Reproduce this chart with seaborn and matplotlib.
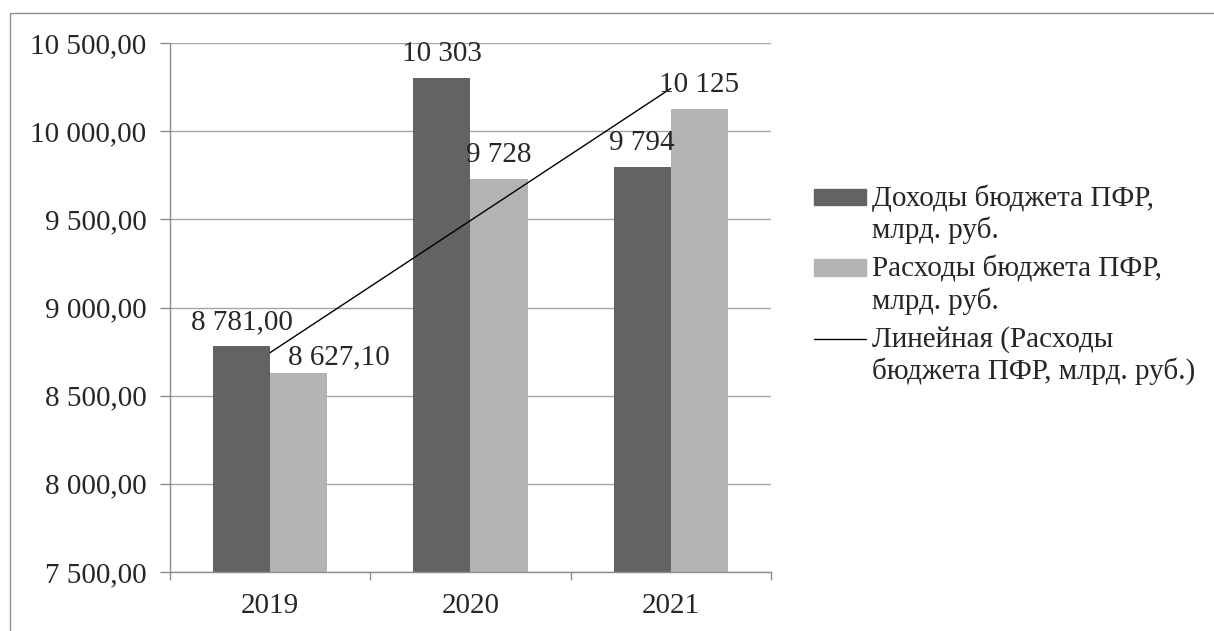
import numpy as np
import pandas as pd
import matplotlib
matplotlib.use("Agg")
import matplotlib.pyplot as plt
import matplotlib.patches as mpatches
from matplotlib.lines import Line2D
from matplotlib.legend_handler import HandlerPatch, HandlerLine2D
from matplotlib.ticker import FuncFormatter
import seaborn as sns

# Data
years = ["2019", "2020", "2021"]
income = [8781.00, 10303, 9794]
expenses = [8627.10, 9728, 10125]
income_labels = ["8 781,00", "10 303", "9 794"]
expenses_labels = ["8 627,10", "9 728", "10 125"]
series_names = ["Доходы бюджета ПФР,\nмлрд. руб.", "Расходы бюджета ПФР,\nмлрд. руб."]
trend_name = "Линейная (Расходы\nбюджета ПФР, млрд. руб.)"
y_ticks = [7500, 8000, 8500, 9000, 9500, 10000, 10500]

dark = "#636363"
light = "#b3b3b3"
grid_col = "#a6a6a6"
FS = 21

sns.set_style("white")
plt.rcParams["font.family"] = ["Liberation Serif"]

df = pd.DataFrame({
    "year": years * 2,
    "value": income + expenses,
    "series": [series_names[0]] * 3 + [series_names[1]] * 3,
})

fig = plt.figure(figsize=(12.14, 6.31), dpi=100)
ax = fig.add_axes([170 / 1214, 1 - 572 / 631, 601 / 1214, 529 / 631])

sns.barplot(data=df, x="year", y="value", hue="series", order=years,
            hue_order=series_names, palette=[dark, light], width=0.57,
            saturation=1, errorbar=None, linewidth=0, legend=False, ax=ax)

# linear trend of expenses
sns.regplot(x=np.arange(len(years)), y=np.array(expenses), scatter=False,
            ci=None, truncate=True, color="black",
            line_kws={"linewidth": 1}, ax=ax)

ax.set_xlim(-0.5, len(years) - 0.5)
ax.set_ylim(y_ticks[0], y_ticks[-1])
ax.set_yticks(y_ticks)
ax.yaxis.set_major_formatter(FuncFormatter(
    lambda v, p: f"{v:,.2f}".replace(",", " ").replace(".", ",")))
ax.set_xlabel("")
ax.set_ylabel("")

ax.set_axisbelow(True)
ax.grid(axis="y", color=grid_col, linewidth=1)
ax.grid(axis="x", visible=False)
for s in ["top", "right"]:
    ax.spines[s].set_visible(False)
for s in ["left", "bottom"]:
    ax.spines[s].set_color("#8c8c8c")
    ax.spines[s].set_linewidth(1)

ax.tick_params(axis="y", which="major", direction="out", length=7, width=1,
               color="#8c8c8c", labelsize=FS, pad=10, left=True)
ax.tick_params(axis="x", which="major", length=0, labelsize=FS, pad=15)
ax.set_xticks(np.arange(len(years) + 1) - 0.5, minor=True)
ax.tick_params(axis="x", which="minor", direction="out", length=6, width=1,
               color="#8c8c8c", bottom=True)
for t in ax.get_xticklabels() + ax.get_yticklabels():
    t.set_fontfamily("Liberation Serif")

# data labels
inc_ann = ax.bar_label(ax.containers[0], labels=income_labels, padding=8,
                       fontsize=FS, family="Liberation Serif")
exp_ann = ax.bar_label(ax.containers[1], labels=expenses_labels, padding=8,
                       fontsize=FS, family="Liberation Serif")
exp_ann[0].xyann = (29, 2)


class TopPatch(HandlerPatch):
    def create_artists(self, legend, orig_handle, xdescent, ydescent,
                       width, height, fontsize, trans):
        arts = super().create_artists(legend, orig_handle, xdescent, ydescent,
                                      width, height, fontsize, trans)
        for a in arts:
            a.set_y(a.get_y() + 0.6 * fontsize)
        return arts


class TopLine(HandlerLine2D):
    def create_artists(self, legend, orig_handle, xdescent, ydescent,
                       width, height, fontsize, trans):
        arts = super().create_artists(legend, orig_handle, xdescent, ydescent,
                                      width, height, fontsize, trans)
        for a in arts:
            a.set_ydata(np.asarray(a.get_ydata()) + 0.6 * fontsize)
        return arts


handles = [mpatches.Patch(color=dark), mpatches.Patch(color=light),
           Line2D([], [], color="black", linewidth=1)]
fig.legend(handles, series_names + [trend_name], loc="upper left",
           bbox_to_anchor=(814 / 1214, 1 - 185 / 631), frameon=False,
           prop={"family": "Liberation Serif", "size": FS},
           handlelength=1.78, handleheight=0.48,
           handletextpad=0.2, labelspacing=0.4, borderpad=0,
           borderaxespad=0,
           handler_map={mpatches.Patch: TopPatch(), Line2D: TopLine()})

# outer chart frame
fig.add_artist(mpatches.Rectangle((10 / 1214, -0.1), 1.2, 1.1 - 13 / 631,
                                  transform=fig.transFigure, fill=False,
                                  edgecolor="#8f8f8f", linewidth=1))

fig.savefig("out.png", dpi=100)
